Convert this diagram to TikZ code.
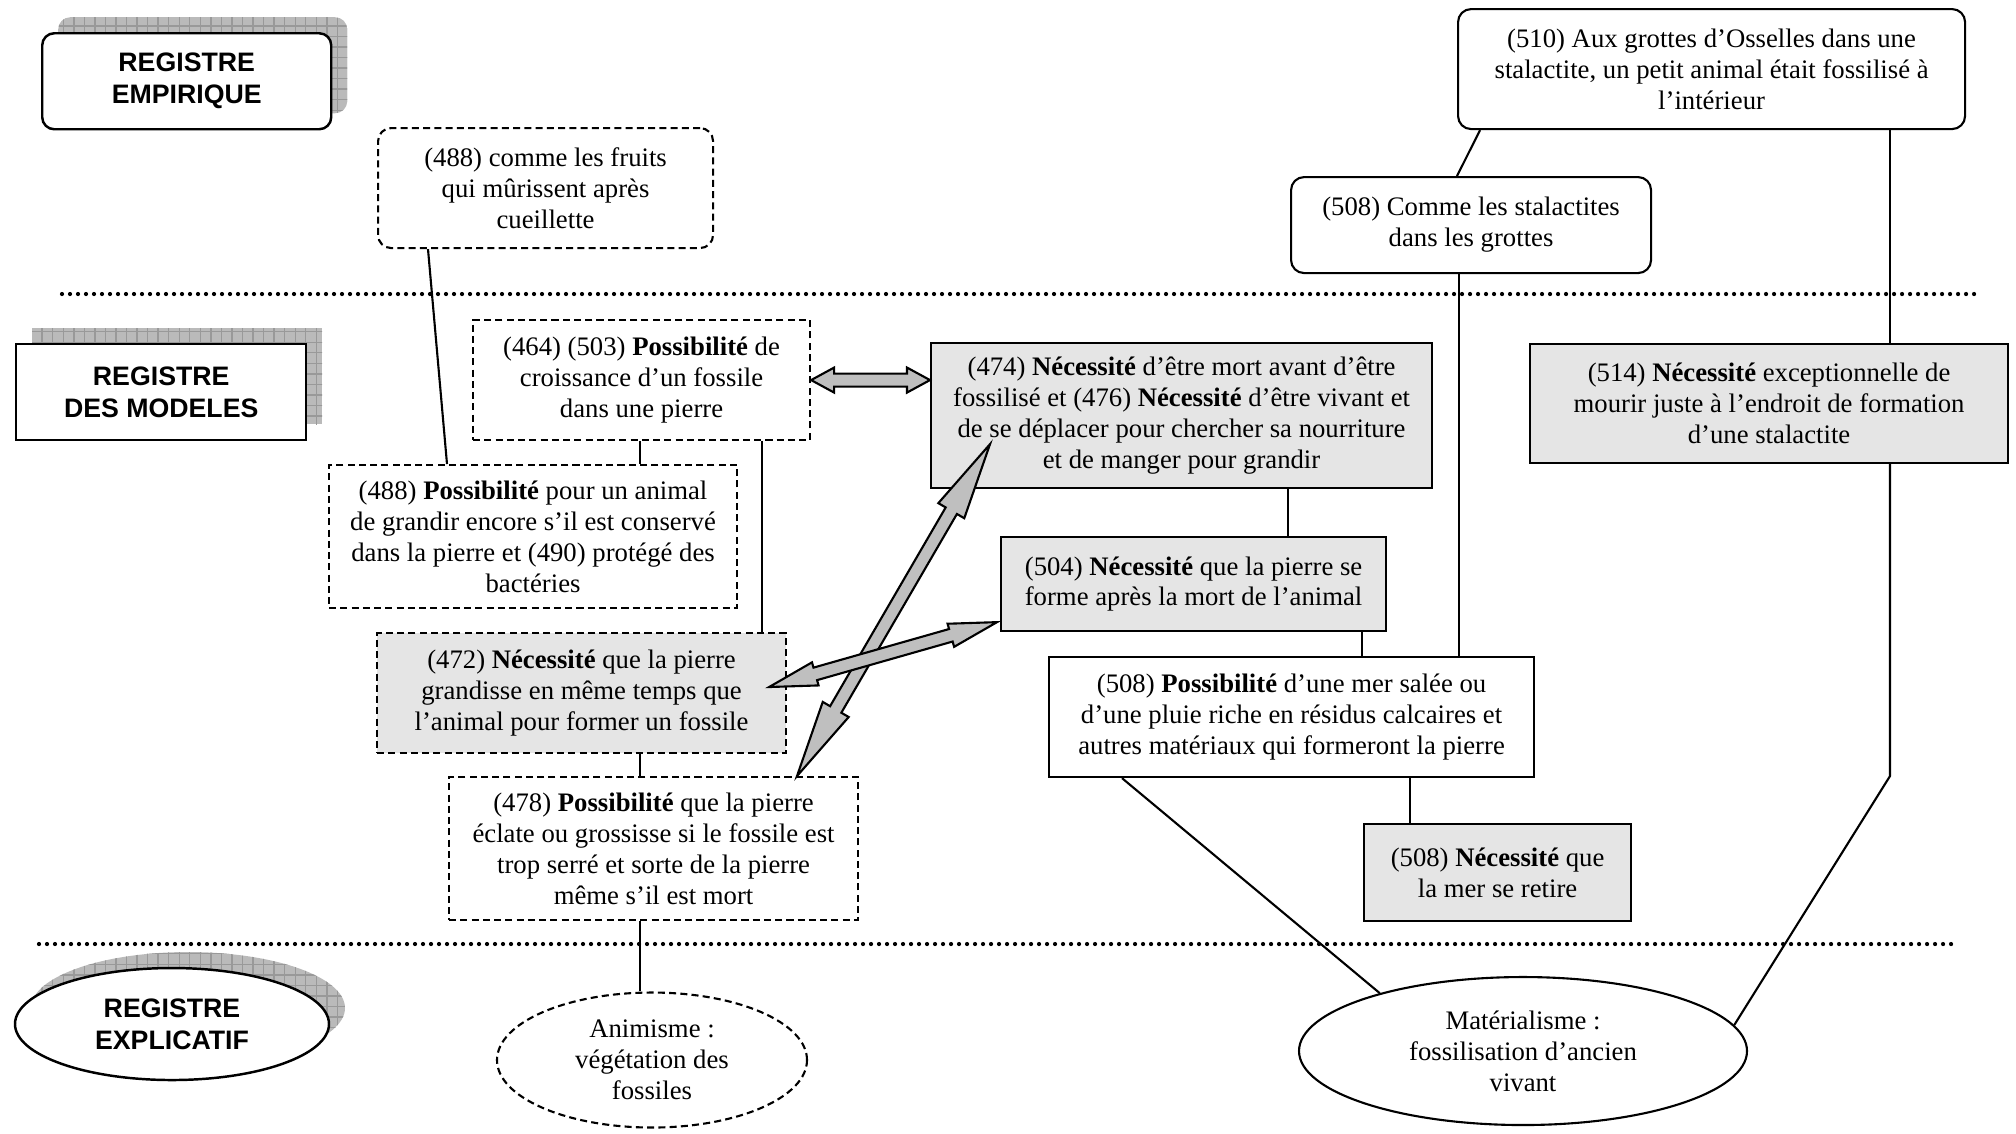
\documentclass[tikz,border=0pt]{standalone}
\usepackage{fontspec}
\setmainfont{Liberation Serif}
\setsansfont{Liberation Sans}
\usetikzlibrary{calc,patterns,shapes.geometric,shadows}

% flèche double pleine : extrémités, longueur de tête, demi-largeur de tête
\newcommand{\blocfleche}[4]{%
  \filldraw[fleche] (#1)
    -- ($(#1)!#3!(#2)!#4!90:(#2)$) -- ($(#1)!#3!(#2)!0.065cm!90:(#2)$)
    -- ($(#2)!#3!(#1)!0.065cm!-90:(#1)$) -- ($(#2)!#3!(#1)!#4!-90:(#1)$)
    -- (#2)
    -- ($(#2)!#3!(#1)!#4!90:(#1)$) -- ($(#2)!#3!(#1)!0.065cm!90:(#1)$)
    -- ($(#1)!#3!(#2)!0.065cm!-90:(#2)$) -- ($(#1)!#3!(#2)!#4!-90:(#2)$)
    -- cycle;}

\begin{document}
\begin{tikzpicture}[x=1cm,y=1cm,
  boite/.style={draw,line width=0.6pt,fill=white,inner sep=0pt,anchor=north west,align=center,font=\fontsize{7.6}{8.8}\selectfont},
  arrondie/.style={boite,rounded corners=0.13cm},
  tirets/.style={dash pattern=on 2pt off 1.2pt},
  grise/.style={fill=black!10},
  registre/.style={draw,line width=0.7pt,fill=white,inner sep=0pt,align=center,font=\sffamily\bfseries\fontsize{7.6}{9.1}\selectfont},
  ombre/.style={general shadow={shadow xshift=0.16cm,shadow yshift=0.16cm,fill=black!27},
                general shadow={shadow xshift=0.16cm,shadow yshift=0.16cm,pattern=grid,pattern color=black!40}},
  lien/.style={line width=0.6pt},
  pointilles/.style={line width=1.2pt,dash pattern=on 0pt off 0.08cm,line cap=round},
  fleche/.style={fill=black!25,draw,line width=0.6pt,line join=miter}]
\path[use as bounding box] (0,0) rectangle (20.16,-11.33);

% Registres
\node[registre,ombre,rounded corners=0.12cm,minimum width=2.89cm,minimum height=0.96cm,anchor=north west] (regemp) at (0.41,-0.32) {REGISTRE\\EMPIRIQUE};
\node[registre,ombre,minimum width=2.90cm,minimum height=0.96cm,anchor=north west] (regmod) at (0.15,-3.43) {REGISTRE\\DES MODELES};
\node[registre,ombre,ellipse,minimum width=3.14cm,minimum height=1.12cm] (regexp) at (1.72,-10.24) {REGISTRE\\EXPLICATIF};

% Séparations
\draw[pointilles] (0.62,-2.94) -- (19.75,-2.94);
\draw[pointilles] (0.39,-9.44) -- (19.55,-9.44);

% Registre empirique
\node[arrondie,minimum width=5.07cm,minimum height=1.20cm] (n510) at (14.57,-0.08) {(510) Aux grottes d’Osselles dans une\\stalactite, un petit animal était fossilisé à\\l’intérieur};
\node[arrondie,minimum width=3.60cm,minimum height=0.96cm] (n508a) at (12.90,-1.76) {(508) Comme les stalactites\\dans les grottes};
\node[arrondie,tirets,minimum width=3.35cm,minimum height=1.20cm] (n488a) at (3.77,-1.27) {(488) comme les fruits\\qui mûrissent après\\cueillette};

% Registre des modèles
\node[boite,tirets,minimum width=3.37cm,minimum height=1.20cm] (n464) at (4.72,-3.19) {(464) (503) \textbf{Possibilité} de\\croissance d’un fossile\\dans une pierre};
\node[boite,grise,minimum width=5.01cm,minimum height=1.45cm] (n474) at (9.30,-3.42) {(474) \textbf{Nécessité} d’être mort avant d’être\\fossilisé et (476) \textbf{Nécessité} d’être vivant et\\de se déplacer pour chercher sa nourriture\\et de manger pour grandir};
\node[boite,grise,minimum width=4.78cm,minimum height=1.19cm] (n514) at (15.29,-3.43) {(514) \textbf{Nécessité} exceptionnelle de\\mourir juste à l’endroit de formation\\d’une stalactite};
\node[boite,tirets,minimum width=4.08cm,minimum height=1.43cm] (n488b) at (3.28,-4.64) {(488) \textbf{Possibilité} pour un animal\\de grandir encore s’il est conservé\\dans la pierre et (490) protégé des\\bactéries};
\node[boite,grise,minimum width=3.85cm,minimum height=0.94cm] (n504) at (10.00,-5.36) {(504) \textbf{Nécessité} que la pierre se\\forme après la mort de l’animal};
\node[boite,tirets,grise,minimum width=4.09cm,minimum height=1.20cm] (n472) at (3.76,-6.32) {(472) \textbf{Nécessité} que la pierre\\grandisse en même temps que\\l’animal pour former un fossile};
\node[boite,minimum width=4.85cm,minimum height=1.20cm] (n508b) at (10.48,-6.56) {(508) \textbf{Possibilité} d’une mer salée ou\\d’une pluie riche en résidus calcaires et\\autres matériaux qui formeront la pierre};
\node[boite,tirets,minimum width=4.09cm,minimum height=1.43cm] (n478) at (4.48,-7.76) {(478) \textbf{Possibilité} que la pierre\\éclate ou grossisse si le fossile est\\trop serré et sorte de la pierre\\même s’il est mort};
\node[boite,grise,minimum width=2.67cm,minimum height=0.97cm] (n508c) at (13.63,-8.23) {(508) \textbf{Nécessité} que\\la mer se retire};

% Registre explicatif
\node[boite,tirets,ellipse,anchor=center,minimum width=3.10cm,minimum height=1.35cm] (nanim) at (6.52,-10.60) {Animisme :\\végétation des\\fossiles};
\node[boite,ellipse,anchor=center,minimum width=4.48cm,minimum height=1.48cm] (nmat) at (15.23,-10.51) {Matérialisme :\\fossilisation d’ancien\\vivant};

% Liens
\draw[lien] (n488a.south -| 4.28,0) -- (n488b.north -| 4.47,0);
\draw[lien] (n464.south -| 6.40,0) -- (n488b.north -| 6.40,0);
\draw[lien] (n464.south -| 7.62,0) -- (n472.north -| 7.62,0);
\draw[lien] (n472.south -| 6.40,0) -- (n478.north -| 6.40,0);
\draw[lien] (n478.south -| 6.40,0) -- (nanim.north -| 6.40,0);
\draw[lien] (n474.south -| 12.88,0) -- (n504.north -| 12.88,0);
\draw[lien] (n504.south -| 13.62,0) -- (n508b.north -| 13.62,0);
\draw[lien] (n508b.south -| 14.10,0) -- (n508c.north -| 14.10,0);
\draw[lien] (n510.south -| 14.80,0) -- (n508a.north -| 14.57,0);
\draw[lien] (n508a.south -| 14.59,0) -- (n508b.north -| 14.59,0);
\draw[lien] (n510.south -| 18.90,0) -- (n514.north -| 18.90,0);
\draw[lien] (n514.south -| 18.90,0) -- (18.90,-7.76) -- (nmat.7);
\draw[lien] (n508b.south -| 11.22,0) -- (nmat.158);

% Flèches doubles
\coordinate (f1a) at (n464.east);
\coordinate (f1b) at (n474.west |- n464.east);
\blocfleche{f1a}{f1b}{0.23cm}{0.125cm}
\coordinate (f2a) at ($(n474.south west)+(0.60,0.45)$);
\coordinate (f2b) at ($(n478.north west)+(3.49,0)$);
\blocfleche{f2a}{f2b}{0.77cm}{0.15cm}
\coordinate (f3a) at ($(n504.south west)+(-0.03,0.10)$);
\coordinate (f3b) at ($(n472.north east)+(-0.18,-0.55)$);
\blocfleche{f3a}{f3b}{0.48cm}{0.12cm}
\end{tikzpicture}
\end{document}
